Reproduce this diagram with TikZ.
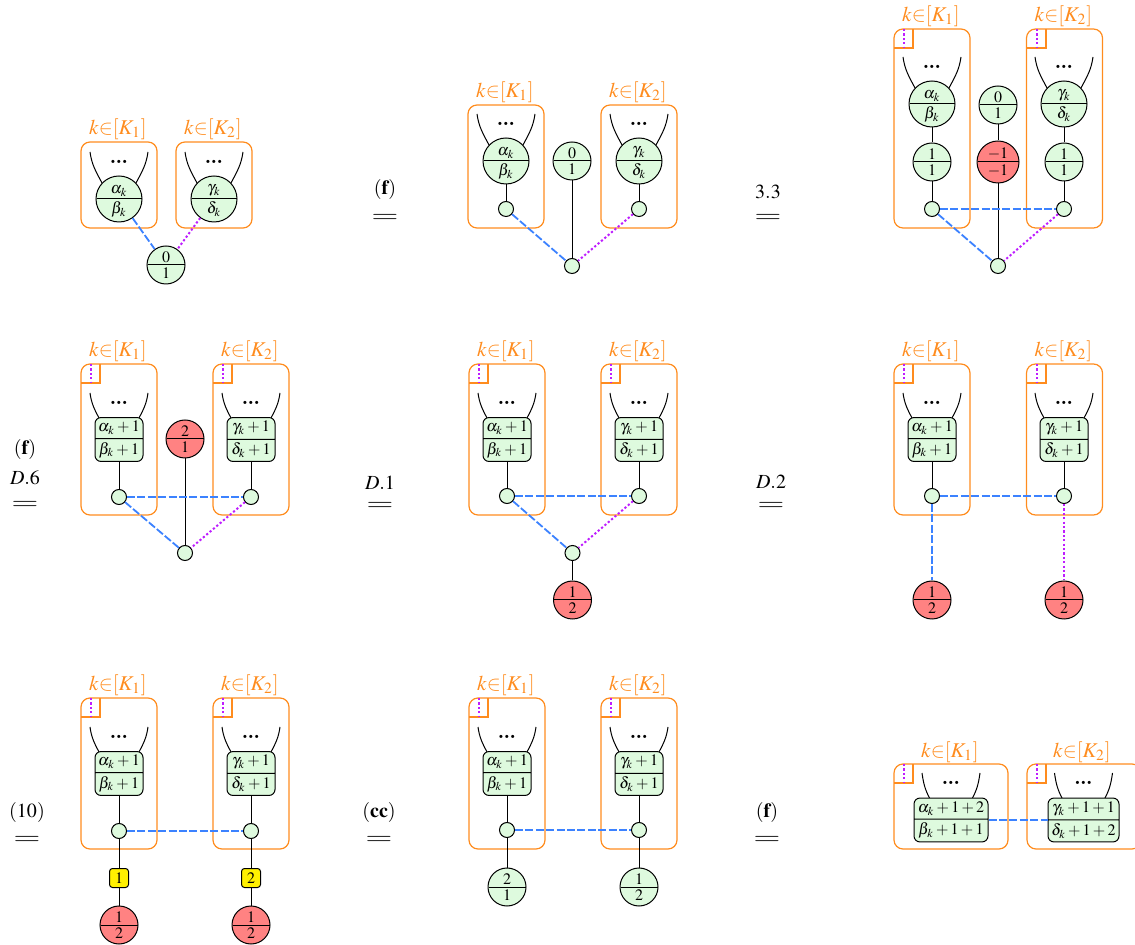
\documentclass[tikz,border=0pt]{standalone}
\usepackage{mathptmx}
\usepackage{graphicx}
\usetikzlibrary{shapes.multipart}

\definecolor{plateorange}{RGB}{255,140,30}
\definecolor{edgeblue}{RGB}{60,130,255}
\definecolor{edgepurple}{RGB}{190,30,255}
\definecolor{factorgreen}{RGB}{222,250,222}
\definecolor{factorred}{RGB}{255,130,130}
\definecolor{tagyellow}{RGB}{255,240,0}

\tikzset{
  plate/.style={draw=plateorange,line width=0.6pt,rectangle,rounded corners=4.5pt,inner sep=0pt,minimum width=38pt},
  platelabel/.style={text=plateorange,inner sep=0pt,font=\fontsize{10.5}{12}\selectfont},
  cornerline/.style={draw=plateorange,line width=0.55pt},
  wire/.style={black,line width=0.5pt},
  blueedge/.style={edgeblue,line width=0.9pt,dash pattern=on 4pt off 1.2pt},
  purpleedge/.style={edgepurple,line width=1pt,dash pattern=on 1.1pt off 1.1pt},
  factor/.style={circle split,draw,fill=factorgreen,inner sep=0.5pt,inner ysep=1pt,font=\footnotesize,line width=0.5pt},
  bigfactor/.style={factor,minimum size=23pt},
  midfactor/.style={factor,minimum size=19pt},
  redfactor/.style={factor,minimum size=19pt,fill=factorred},
  boxfactor/.style={rectangle split,rectangle split parts=2,draw,fill=factorgreen,rounded corners=3pt,
    inner xsep=1pt,inner ysep=1.6pt,font=\footnotesize,minimum width=24pt,line width=0.5pt},
  leaf/.style={circle,draw,fill=factorgreen,inner sep=0pt,minimum size=7.5pt,line width=0.5pt},
  tagbox/.style={rectangle,draw,fill=tagyellow,rounded corners=1.5pt,inner sep=0pt,minimum size=9.5pt,font=\footnotesize,line width=0.5pt},
  steptext/.style={inner sep=0pt,font=\normalsize},
}

% name, centre x, top, height, index of K
\newcommand{\mkplate}[5]{
  \node[plate,minimum height=#4*0.5pt] (#1) at (#2,#3+#4/2) {};
  \node[platelabel] (#1l) at (#2-1,#3-12.5) {$k{\in}[K_{#5}]$};
}
% name, left, top
\newcommand{\mkcorner}[3]{
  \coordinate (#1a) at (#2+19,#3);
  \coordinate (#1b) at (#2,#3+19);
  \coordinate (#1c) at (#2+9.5,#3);
  \coordinate (#1d) at (#2+9.5,#3+19);
  \draw[cornerline] (#1a) |- (#1b);
  \draw[purpleedge] (#1c) -- (#1d);
}
% name, centre x, y of the tops, half width at the bottom, drop
\newcommand{\mklegs}[5]{
  \coordinate (#1tl) at (#2-29,#3);
  \coordinate (#1tr) at (#2+29,#3);
  \coordinate (#1bl) at (#2-#4,#3+#5);
  \coordinate (#1br) at (#2+#4,#3+#5);
  \node[inner sep=0pt] (#1dots) at (#2,#3+10) {\scalebox{1.5}{\textbf{\ldots}}};
  \draw[wire] (#1tl) to[out=-82,in=118] (#1bl);
  \draw[wire] (#1tr) to[out=-98,in=62] (#1br);
}
% name, x, y, lines
\newcommand{\mkstep}[4]{
  \node[steptext] (#1) at (#2,#3) {\scalebox{1.75}[1.1]{$=$}};
  \foreach \n/\y/\t in {#4}
    \node[steptext] (#1\n) at (#2,\y) {\t};
}

\begin{document}
\begin{tikzpicture}[x=0.5pt,y=-0.5pt]
  \useasboundingbox (0,0) rectangle (1135,945);
  \clip (0,0) rectangle (1135,945);

  % row 1, first diagram
  \mkplate{pa}{119}{142}{86}{1}
  \mkplate{pb}{214}{142}{86}{2}
  \mklegs{fa}{119}{152}{17}{31}
  \mklegs{fb}{214}{152}{17}{31}
  \node[bigfactor] (fa) at (119,199) {$\alpha_k$\nodepart{lower}$\beta_k$};
  \node[bigfactor] (fb) at (214,199) {$\gamma_k$\nodepart{lower}$\delta_k$};
  \node[midfactor] (fc) at (166,265) {$0$\nodepart{lower}$1$};
  \draw[blueedge] (fa) -- (fc);
  \draw[purpleedge] (fb) -- (fc);

  % row 1, second diagram
  \mkstep{sb}{385}{218}{a/190/{$(\mathbf{f})$}}
  \mkplate{qa}{506}{105}{123}{1}
  \mkplate{qb}{639}{105}{123}{2}
  \mklegs{ga}{506}{114}{17}{31}
  \mklegs{gb}{639}{114}{17}{31}
  \node[bigfactor] (ga) at (506,161) {$\alpha_k$\nodepart{lower}$\beta_k$};
  \node[bigfactor] (gb) at (639,161) {$\gamma_k$\nodepart{lower}$\delta_k$};
  \node[midfactor] (gc) at (572,161) {$0$\nodepart{lower}$1$};
  \node[leaf] (gla) at (506,209) {};
  \node[leaf] (glb) at (639,209) {};
  \node[leaf] (gld) at (572,266) {};
  \draw[wire] (ga) -- (gla);
  \draw[wire] (gb) -- (glb);
  \draw[wire] (gc) -- (gld);
  \draw[blueedge] (gla) -- (gld);
  \draw[purpleedge] (glb) -- (gld);

  % row 1, third diagram
  \mkstep{sc}{768}{218}{a/192/{$3.3$}}
  \mkplate{ra}{932}{29}{199}{1}
  \mkplate{rb}{1064.5}{29}{199}{2}
  \mkcorner{rca}{894}{29}
  \mkcorner{rcb}{1027}{29}
  \mklegs{ha}{932}{57}{17}{31}
  \mklegs{hb}{1064}{57}{17}{31}
  \node[bigfactor] (ha) at (932,104) {$\alpha_k$\nodepart{lower}$\beta_k$};
  \node[bigfactor] (hb) at (1064,104) {$\gamma_k$\nodepart{lower}$\delta_k$};
  \node[midfactor] (hc) at (932,162) {$1$\nodepart{lower}$1$};
  \node[midfactor] (hd) at (1064,162) {$1$\nodepart{lower}$1$};
  \node[midfactor] (he) at (998,105) {$0$\nodepart{lower}$1$};
  \node[redfactor,minimum size=21pt] (hf) at (998,162) {$-1$\nodepart{lower}$-1$};
  \node[leaf] (hla) at (932,209) {};
  \node[leaf] (hlb) at (1064,209) {};
  \node[leaf] (hld) at (998,266) {};
  \draw[wire] (ha) -- (hc);
  \draw[wire] (hb) -- (hd);
  \draw[wire] (hc) -- (hla);
  \draw[wire] (hd) -- (hlb);
  \draw[wire] (he) -- (hf);
  \draw[wire] (hf) -- (hld);
  \draw[blueedge] (hla) -- (hlb);
  \draw[blueedge] (hla) -- (hld);
  \draw[purpleedge] (hlb) -- (hld);

  % row 2, first diagram
  \mkstep{sd}{25}{505}{a/450/{$(\mathbf{f})$},b/478/{$D.6$}}
  \mkplate{sa}{119}{364}{151}{1}
  \mkplate{sbp}{251}{364}{151}{2}
  \mkcorner{sca}{81}{364}
  \mkcorner{scb}{213}{364}
  \mklegs{ia}{119}{393}{20}{25}
  \mklegs{ib}{251}{393}{20}{25}
  \node[boxfactor] (ia) at (119,439.5) {$\alpha_k+1$\nodepart{two}$\beta_k+1$};
  \node[boxfactor] (ib) at (251,439.5) {$\gamma_k+1$\nodepart{two}$\delta_k+1$};
  \node[redfactor] (ic) at (185,439) {$2$\nodepart{lower}$1$};
  \node[leaf] (ila) at (119,497) {};
  \node[leaf] (ilb) at (251,497) {};
  \node[leaf] (ild) at (185,553) {};
  \draw[wire] (ia) -- (ila);
  \draw[wire] (ib) -- (ilb);
  \draw[wire] (ic) -- (ild);
  \draw[blueedge] (ila) -- (ilb);
  \draw[blueedge] (ila) -- (ild);
  \draw[purpleedge] (ilb) -- (ild);

  % row 2, second diagram
  \mkstep{se}{380}{506}{a/483/{$D.1$}}
  \mkplate{ta}{507}{364}{151}{1}
  \mkplate{tb}{639}{364}{151}{2}
  \mkcorner{tca}{469}{364}
  \mkcorner{tcb}{601}{364}
  \mklegs{ja}{507}{393}{20}{25}
  \mklegs{jb}{639}{393}{20}{25}
  \node[boxfactor] (ja) at (507,439.5) {$\alpha_k+1$\nodepart{two}$\beta_k+1$};
  \node[boxfactor] (jb) at (639,439.5) {$\gamma_k+1$\nodepart{two}$\delta_k+1$};
  \node[leaf] (jla) at (507,496) {};
  \node[leaf] (jlb) at (639,496) {};
  \node[leaf] (jld) at (572.5,553) {};
  \node[redfactor] (jc) at (572.5,600) {$1$\nodepart{lower}$2$};
  \draw[wire] (ja) -- (jla);
  \draw[wire] (jb) -- (jlb);
  \draw[wire] (jld) -- (jc);
  \draw[blueedge] (jla) -- (jlb);
  \draw[blueedge] (jla) -- (jld);
  \draw[purpleedge] (jlb) -- (jld);

  % row 2, third diagram
  \mkstep{sf}{771}{506}{a/482/{$D.2$}}
  \mkplate{ua}{932}{364}{151}{1}
  \mkplate{ub}{1064.5}{364}{151}{2}
  \mkcorner{uca}{894}{364}
  \mkcorner{ucb}{1027}{364}
  \mklegs{ka}{932}{393}{20}{25}
  \mklegs{kb}{1064}{393}{20}{25}
  \node[boxfactor] (ka) at (932,439.5) {$\alpha_k+1$\nodepart{two}$\beta_k+1$};
  \node[boxfactor] (kb) at (1064,439.5) {$\gamma_k+1$\nodepart{two}$\delta_k+1$};
  \node[leaf] (kla) at (932,496) {};
  \node[leaf] (klb) at (1064,496) {};
  \node[redfactor] (kc) at (932,600) {$1$\nodepart{lower}$2$};
  \node[redfactor] (kd) at (1064,600) {$1$\nodepart{lower}$2$};
  \draw[wire] (ka) -- (kla);
  \draw[wire] (kb) -- (klb);
  \draw[blueedge] (kla) -- (klb);
  \draw[blueedge] (kla) -- (kc);
  \draw[purpleedge] (klb) -- (kd);

  % row 3, first diagram
  \mkstep{sg}{27}{840}{a/812/{$(10)$}}
  \mkplate{va}{119}{698}{151}{1}
  \mkplate{vb}{251}{698}{151}{2}
  \mkcorner{vca}{81}{698}
  \mkcorner{vcb}{213}{698}
  \mklegs{la}{119}{727}{20}{25}
  \mklegs{lb}{251}{727}{20}{25}
  \node[boxfactor] (la) at (119,773.5) {$\alpha_k+1$\nodepart{two}$\beta_k+1$};
  \node[boxfactor] (lb) at (251,773.5) {$\gamma_k+1$\nodepart{two}$\delta_k+1$};
  \node[leaf] (lla) at (119,831) {};
  \node[leaf] (llb) at (251,831) {};
  \node[tagbox] (lta) at (119,878) {$1$};
  \node[tagbox] (ltb) at (251,878) {$2$};
  \node[redfactor] (lc) at (119,925) {$1$\nodepart{lower}$2$};
  \node[redfactor] (ld) at (251,925) {$1$\nodepart{lower}$2$};
  \draw[wire] (la) -- (lla);
  \draw[wire] (lb) -- (llb);
  \draw[wire] (lla) -- (lta);
  \draw[wire] (llb) -- (ltb);
  \draw[wire] (lta) -- (lc);
  \draw[wire] (ltb) -- (ld);
  \draw[blueedge] (lla) -- (llb);

  % row 3, second diagram
  \mkstep{sh}{379}{840}{a/812/{$(\mathbf{cc})$}}
  \mkplate{wa}{507}{698}{151}{1}
  \mkplate{wb}{639}{698}{151}{2}
  \mkcorner{wca}{469}{698}
  \mkcorner{wcb}{601}{698}
  \mklegs{ma}{507}{727}{20}{25}
  \mklegs{mb}{639}{727}{20}{25}
  \node[boxfactor] (ma) at (507,773.5) {$\alpha_k+1$\nodepart{two}$\beta_k+1$};
  \node[boxfactor] (mb) at (639,773.5) {$\gamma_k+1$\nodepart{two}$\delta_k+1$};
  \node[leaf] (mla) at (507,830) {};
  \node[leaf] (mlb) at (639,830) {};
  \node[midfactor] (mc) at (507,887) {$2$\nodepart{lower}$1$};
  \node[midfactor] (md) at (639,887) {$1$\nodepart{lower}$2$};
  \draw[wire] (ma) -- (mla);
  \draw[wire] (mb) -- (mlb);
  \draw[wire] (mla) -- (mc);
  \draw[wire] (mlb) -- (md);
  \draw[blueedge] (mla) -- (mlb);

  % row 3, third diagram
  \mkstep{si}{767}{840}{a/812/{$(\mathbf{f})$}}
  \node[plate,minimum width=57pt,minimum height=42.5pt] (xa) at (951,806.5) {};
  \node[platelabel] (xal) at (950,752) {$k{\in}[K_1]$};
  \node[plate,minimum width=57pt,minimum height=42.5pt] (xb) at (1084,806.5) {};
  \node[platelabel] (xbl) at (1082,752) {$k{\in}[K_2]$};
  \mkcorner{xca}{894}{764}
  \mkcorner{xcb}{1027}{764}
  \mklegs{na}{951}{773}{21}{26}
  \mklegs{nb}{1083.5}{773}{21}{26}
  \node[boxfactor,minimum width=37pt] (na) at (951,820) {$\alpha_k+1+2$\nodepart{two}$\beta_k+1+1$};
  \node[boxfactor,minimum width=35.5pt] (nb) at (1083.5,820) {$\gamma_k+1+1$\nodepart{two}$\delta_k+1+2$};
  \draw[blueedge] (na.two split east) -- (nb.two split west);
\end{tikzpicture}
\end{document}
